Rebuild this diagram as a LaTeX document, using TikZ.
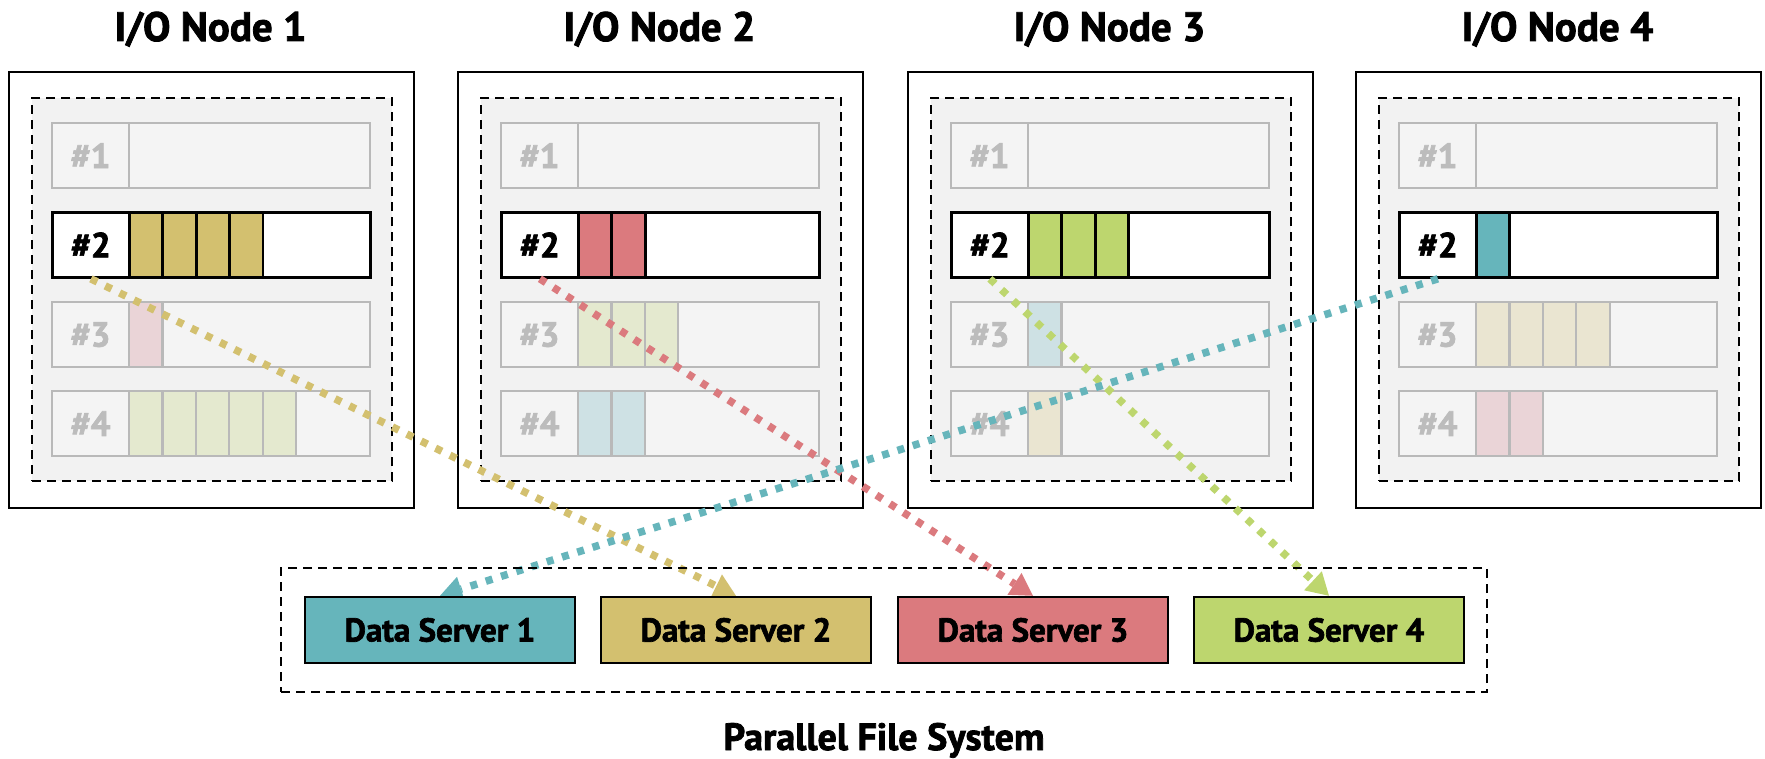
\documentclass[tikz,border=0pt]{standalone}
\usepackage{fontspec}
\setmainfont{PT Sans}[BoldFeatures={FakeBold=2}]
\usetikzlibrary{arrows.meta,calc}
\pgfdeclarelayer{back}
\pgfdeclarelayer{mid}
\pgfsetlayers{back,mid,main}
\definecolor{cteal}{HTML}{66B5BB}
\definecolor{cgold}{HTML}{D3C06F}
\definecolor{cred}{HTML}{DB7A7E}
\definecolor{cgreen}{HTML}{BDD66E}
\definecolor{lpink}{HTML}{EAD4D7}
\definecolor{lgreen}{HTML}{E4E9CF}
\definecolor{lteal}{HTML}{CEE1E4}
\definecolor{lgold}{HTML}{EAE5D1}
\definecolor{cmem}{HTML}{F2F2F2}
\definecolor{crow}{HTML}{F4F4F4}
\definecolor{cgray}{HTML}{B9B9B9}
\definecolor{cgraytxt}{HTML}{BCBCBC}
\newcommand{\titlefont}{\bfseries\fontsize{41}{41}\selectfont}
\newcommand{\lblfont}{\bfseries\fontsize{35}{35}\selectfont}
\newcommand{\serverfont}{\bfseries\fontsize{33}{33}\selectfont}
\newcommand{\pfsfont}{\bfseries\fontsize{38}{38}\selectfont}
\tikzset{
 outerbox/.style={draw=black, line width=2.4pt, fill=white, minimum width=405pt, minimum height=436pt, anchor=north west, inner sep=0pt},
 membox/.style={draw=black, line width=2.2pt, dash pattern=on 9pt off 6pt, fill=cmem, minimum width=360pt, minimum height=383pt, anchor=north west, inner sep=0pt},
 rowbg/.style={fill=crow, minimum width=318pt, minimum height=65pt, anchor=north west, inner sep=0pt},
 grayrow/.style={rowbg, draw=cgray, line width=2.2pt},
 blackrow/.style={rowbg, fill=white, draw=black, line width=2.8pt},
 graylbl/.style={draw=cgray, line width=2.2pt, minimum width=77pt, minimum height=65pt, anchor=north west, inner sep=0pt, text=cgraytxt, font=\lblfont},
 blacklbl/.style={graylbl, draw=black, line width=2.8pt, text=black},
 graycell/.style={draw=cgray, line width=2.2pt, minimum width=33.4pt, minimum height=65pt, anchor=north west, inner sep=0pt},
 blackcell/.style={graycell, draw=black, line width=2.8pt},
 iotitle/.style={font=\titlefont, anchor=base, inner sep=0pt},
 server/.style={draw=black, line width=2.4pt, minimum width=270pt, minimum height=66pt, inner sep=0pt, font=\serverfont},
 pfsbox/.style={draw=black, line width=2.2pt, dash pattern=on 9pt off 6pt, minimum width=1206pt, minimum height=124pt, inner sep=0pt},
 flow/.style={line width=7.5pt, dash pattern=on 7pt off 9pt, -{Triangle[length=22pt,width=26pt,line width=0pt]}},
}
% #1 index, #2 x0, #3/#4 row2 count/colour, #5/#6 row3, #7/#8 row4
\newcommand{\ionode}[8]{%
 \node[outerbox] (io#1) at (#2,71) {};
 \node[membox] (mem#1) at ({#2+23},97) {};
 \node[iotitle] (t#1) at ({#2+202.5},41) {I/O Node #1};
 \node[grayrow] (r#1a) at ({#2+43},122) {};
 \node[graylbl] (l#1a) at ({#2+43},122) {\#1};
 \node[blackrow] (r#1b) at ({#2+43},211) {};
 \foreach \i in {1,...,#3}{\node[blackcell,fill=#4] (c#1b\i) at ({#2+120+(\i-1)*33.4},211) {};}
 \node[blacklbl] (l#1b) at ({#2+43},211) {\#2};
 \node[grayrow] (r#1c) at ({#2+43},301) {};
 \foreach \i in {1,...,#5}{\node[graycell,fill=#6] (c#1c\i) at ({#2+120+(\i-1)*33.4},301) {};}
 \node[graylbl] (l#1c) at ({#2+43},301) {\#3};
 \node[grayrow] (r#1d) at ({#2+43},390) {};
 \foreach \i in {1,...,#7}{\node[graycell,fill=#8] (c#1d\i) at ({#2+120+(\i-1)*33.4},390) {};}
 \node[graylbl] (l#1d) at ({#2+43},390) {\#4};
}
\begin{document}
\begin{tikzpicture}[x=1pt,y=-1pt]
\useasboundingbox (0,0) rectangle (1765,759);
\begin{pgfonlayer}{back}
\ionode{1}{8}{4}{cgold}{1}{lpink}{5}{lgreen}
\ionode{2}{457}{2}{cred}{3}{lgreen}{2}{lteal}
\ionode{3}{907}{3}{cgreen}{1}{lteal}{1}{lgold}
\ionode{4}{1355}{1}{cteal}{4}{lgold}{2}{lpink}
\end{pgfonlayer}
\node[pfsbox] (pfs) at (884,630) {};
\node[server, fill=cteal] (ds1) at (440,630) {Data Server 1};
\node[server, fill=cgold] (ds2) at (736,630) {Data Server 2};
\node[server, fill=cred] (ds3) at (1033,630) {Data Server 3};
\node[server, fill=cgreen] (ds4) at (1329,630) {Data Server 4};
\node[font=\pfsfont, anchor=base, inner sep=0pt] (pfslabel) at (884,750) {Parallel File System};
\begin{pgfonlayer}{mid}
\draw[flow, cgold] (l1b.south) -- (ds2.north);
\draw[flow, cred] (l2b.south) -- (ds3.north);
\draw[flow, cgreen] (l3b.south) -- (ds4.north);
\draw[flow, cteal] (l4b.south) -- (ds1.north);
\end{pgfonlayer}
\end{tikzpicture}
\end{document}
